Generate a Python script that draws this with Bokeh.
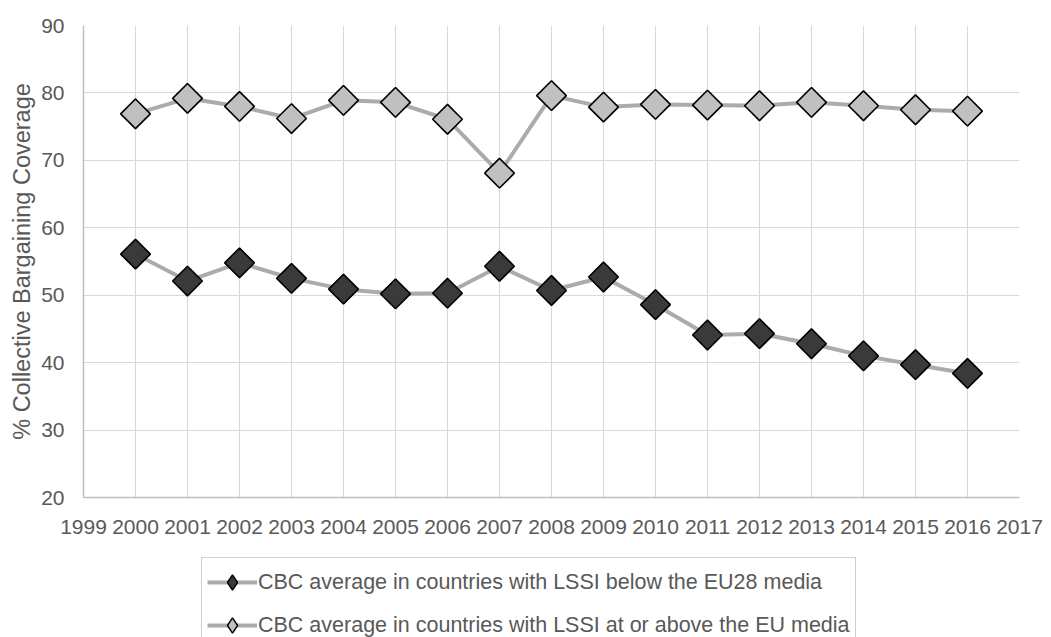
import numpy as np
from bokeh.plotting import figure
from bokeh.layouts import column
from bokeh.models import FixedTicker, Legend, LegendItem, ColumnDataSource
from bokeh.embed import file_html
from bokeh.resources import INLINE

years = list(range(2000, 2017))
below_median = [56.1, 52.1, 54.8, 52.5, 50.9, 50.2, 50.3, 54.3, 50.7, 52.7,
                48.6, 44.1, 44.3, 42.8, 41.0, 39.7, 38.4]
above_median = [76.9, 79.2, 78.0, 76.2, 78.9, 78.6, 76.1, 68.1, 79.6, 77.9,
                78.3, 78.2, 78.1, 78.6, 78.1, 77.5, 77.3]
x_ticks = list(range(1999, 2018))
y_ticks = [20, 30, 40, 50, 60, 70, 80, 90]

label_below = "CBC average in countries with LSSI below the EU28 media"
label_above = "CBC average in countries with LSSI at or above the EU media"

FONT = "Liberation Sans"
TEXT = "#595959"
LINE = "#AEAAAA"
DARK = "#3A3A3A"
LIGHT = "#C0C0C0"

line_style = dict(line_color=LINE, line_width=4)
# diamonds on the chart: squares turned by 45 degrees
marker_style = dict(marker="square", angle=np.pi / 4, size=21,
                    line_color="black", line_width=1.6)
# legend keys are never rotated, so use Bokeh's diamond there
key_marker_style = dict(marker="diamond", size=21,
                        line_color="black", line_width=1.4)

src = ColumnDataSource(dict(year=years, below=below_median, above=above_median))

# Main chart
p = figure(width=1051, height=556, output_backend="svg", toolbar_location=None,
           x_range=(1999, 2017), y_range=(20, 90),
           min_border_left=83, min_border_right=32, min_border_top=25,
           min_border_bottom=59)
p.outline_line_color = None

p.xaxis.ticker = FixedTicker(ticks=x_ticks)
p.yaxis.ticker = FixedTicker(ticks=y_ticks)
p.xgrid.ticker = FixedTicker(ticks=x_ticks)
p.ygrid.ticker = FixedTicker(ticks=y_ticks)
for g in (p.xgrid, p.ygrid):
    g.grid_line_color = "#D9D9D9"
    g.grid_line_width = 1.2

for ax in (p.xaxis, p.yaxis):
    ax.axis_line_color = "#BFBFBF"
    ax.axis_line_width = 1.5
    ax.major_tick_line_color = None
    ax.minor_tick_line_color = None
    ax.major_tick_out = 0
    ax.major_tick_in = 0
    ax.major_label_text_font = FONT
    ax.major_label_text_font_size = "21px"
    ax.major_label_text_color = TEXT
p.xaxis.major_label_standoff = 22
p.yaxis.major_label_standoff = 19
p.yaxis.axis_label = "% Collective Bargaining Coverage"
p.yaxis.axis_label_text_font = FONT
p.yaxis.axis_label_text_font_size = "23.5px"
p.yaxis.axis_label_text_font_style = "normal"
p.yaxis.axis_label_text_color = TEXT
p.yaxis.axis_label_standoff = 3

p.line("year", "below", source=src, **line_style)
p.scatter("year", "below", source=src, fill_color=DARK, **marker_style)
p.line("year", "above", source=src, **line_style)
p.scatter("year", "above", source=src, fill_color=LIGHT, **marker_style)

# Legend strip underneath the chart; its glyph renderers share the data
# but sit outside this strip's visible range, so only the key is drawn.
key = figure(width=1051, height=81, output_backend="svg", toolbar_location=None,
             x_range=(0, 1), y_range=(0, 1), x_axis_type=None, y_axis_type=None,
             min_border=0)
key.outline_line_color = None
key.xgrid.visible = False
key.ygrid.visible = False
k_l1 = key.line("year", "below", source=src, **line_style)
k_m1 = key.scatter("year", "below", source=src, fill_color=DARK, **key_marker_style)
k_l2 = key.line("year", "above", source=src, **line_style)
k_m2 = key.scatter("year", "above", source=src, fill_color=LIGHT, **key_marker_style)

legend = Legend(items=[LegendItem(label=label_below, renderers=[k_l1, k_m1]),
                       LegendItem(label=label_above, renderers=[k_l2, k_m2])],
                location=(118, -13), orientation="vertical")
legend.label_text_font = FONT
legend.label_text_font_size = "21.5px"
legend.label_text_color = TEXT
legend.glyph_width = 50
legend.glyph_height = 38
legend.label_height = 38
legend.label_standoff = 1
legend.spacing = 5
legend.padding = 5
legend.margin = 0
legend.border_line_color = "#A0A0A0"
legend.border_line_width = 1
legend.background_fill_alpha = 1
key.add_layout(legend, "center")

layout = column(p, key, spacing=0)
open("out.html", "w").write(file_html(layout, INLINE))
